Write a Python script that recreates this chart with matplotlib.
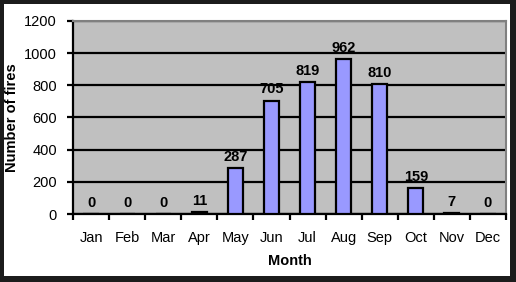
import matplotlib
matplotlib.use("Agg")
import matplotlib.pyplot as plt
from matplotlib.patches import Rectangle

months = ["Jan", "Feb", "Mar", "Apr", "May", "Jun", "Jul", "Aug", "Sep", "Oct", "Nov", "Dec"]
fires = [0, 0, 0, 11, 287, 705, 819, 962, 810, 159, 7, 0]
yticks = [0, 200, 400, 600, 800, 1000, 1200]

plt.rcParams['font.family'] = ['Liberation Sans', 'DejaVu Sans']

W, H = 516, 282
fig = plt.figure(figsize=(W / 100, H / 100), dpi=100, facecolor='#1c1c1c')
fig.patches.append(Rectangle((4 / W, 6 / H), 506 / W, 272 / H, transform=fig.transFigure,
                             facecolor='white', edgecolor='none', zorder=-10))

ax = fig.add_axes([73 / W, (H - 214) / H, (506 - 73) / W, (214 - 21) / H])
ax.set_zorder(1)
ax.set_facecolor('#c0c0c0')
x = list(range(len(months)))
ax.bar(x, fires, width=0.42, color='#9999ff', edgecolor='black', linewidth=1.6, zorder=3)
for xi, v in zip(x, fires):
    ax.annotate(str(v), (xi, v), xytext=(0, 3), textcoords='offset points',
                ha='center', va='bottom', fontsize=10.5, fontweight='bold', zorder=4)

ax.set_xlim(-0.5, len(months) - 0.5)
ax.set_ylim(0, 1200)
ax.set_yticks(yticks)
ax.set_yticklabels([str(t) for t in yticks], fontsize=10.5)
ax.yaxis.grid(True, color='black', linewidth=1.6, zorder=1)
ax.set_axisbelow(True)

ax.set_xticks([i - 0.5 for i in range(len(months) + 1)])
ax.set_xticklabels([])
ax.set_xticks(x, minor=True)
ax.set_xticklabels(months, minor=True, fontsize=10.5)
ax.tick_params(axis='x', which='minor', length=0, pad=12)
ax.tick_params(axis='x', which='major', length=4.5, width=1.6, direction='out')
ax.tick_params(axis='y', length=4.5, width=1.6, direction='out', pad=7)

ax.spines['left'].set_linewidth(1.6)
ax.spines['bottom'].set_linewidth(1.6)
for s in ['top', 'right']:
    ax.spines[s].set_color('#808080')
    ax.spines[s].set_linewidth(1.5)

ax.set_xlabel('Month', fontsize=10.5, fontweight='bold', labelpad=7)
ax.set_ylabel('Number of fires', fontsize=10.5, fontweight='bold', labelpad=4)

fig.savefig('out.png', dpi=100, facecolor=fig.get_facecolor())
